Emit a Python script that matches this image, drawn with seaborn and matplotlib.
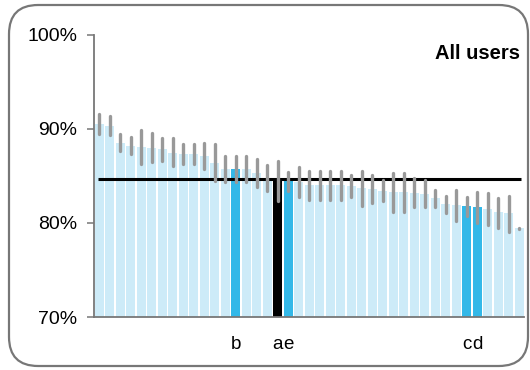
import matplotlib
matplotlib.use("Agg")
import matplotlib.pyplot as plt
from matplotlib.patches import FancyBboxPatch
import seaborn as sns
import numpy as np
import pandas as pd

# ---- data ----
values = [90.5, 90.3, 88.5, 88.2, 88.1, 88.0, 87.8, 87.4, 87.3, 87.3,
          87.1, 86.4, 85.7, 85.7, 85.7, 85.3, 84.7, 84.5, 84.4, 84.3,
          84.0, 84.0, 84.0, 84.0, 83.9, 83.7, 83.6, 83.4, 83.3, 83.3,
          83.2, 83.1, 82.6, 82.0, 81.9, 81.8, 81.7, 81.5, 81.1, 81.0, 79.4]
err_hi = [91.6, 91.3, 89.4, 89.1, 89.9, 89.5, 89.0, 89.0, 88.4, 88.4,
          88.5, 88.4, 87.1, 87.1, 87.1, 86.8, 86.1, 86.6, 85.4, 85.9,
          85.5, 85.5, 85.5, 85.5, 85.1, 85.5, 85.1, 84.5, 85.3, 85.3,
          84.8, 84.5, 83.5, 82.9, 83.5, 82.7, 83.3, 83.2, 82.6, 82.8, 79.5]
err_lo = [89.4, 89.3, 87.6, 87.3, 86.3, 86.5, 86.6, 86.0, 86.2, 86.2,
          85.7, 84.4, 84.3, 84.3, 84.3, 83.8, 83.4, 82.3, 83.4, 82.7,
          82.4, 82.4, 82.4, 82.4, 82.7, 81.8, 82.1, 82.3, 81.2, 81.2,
          81.7, 81.7, 81.7, 81.0, 80.2, 80.7, 80.0, 79.8, 79.5, 79.0, 79.3]
labels = [""] * 41
labels[13] = "b"
labels[17] = "a"
labels[18] = "e"
labels[35] = "c"
labels[36] = "d"
kinds = ["other"] * 41
kinds[13] = "highlight"
kinds[18] = "highlight"
kinds[35] = "highlight"
kinds[36] = "highlight"
kinds[17] = "all"
average = 84.7
yticks = [70, 80, 90, 100]
ytick_labels = ["70%", "80%", "90%", "100%"]
title = "All users"

# ---- style ----
sns.set_style("white")
plt.rcParams['font.family'] = ['Liberation Sans', 'DejaVu Sans']
plt.rcParams['text.color'] = 'black'
plt.rcParams['xtick.color'] = 'black'
plt.rcParams['ytick.color'] = 'black'

color_map = {"other": "#cdebf8", "highlight": "#33b8e8", "all": "#000000"}

df = pd.DataFrame({"pos": [str(i) for i in range(len(values))],
                   "value": values, "kind": kinds})

fig = plt.figure(figsize=(5.3, 3.7), dpi=100)
ax = fig.add_axes([94 / 530, 1 - 317 / 370, 430 / 530, (317 - 34.5) / 370])

sns.barplot(data=df, x="pos", y="value", hue="pos",
            palette=[color_map[k] for k in kinds], legend=False,
            width=0.86, saturation=1, ax=ax, zorder=1, linewidth=0)

n = len(values)
x = np.arange(n)
ax.hlines(average, -0.15, n - 0.85, color="black", linewidth=2.2, zorder=3)
ax.vlines(x, err_lo, err_hi, color="#999999", linewidth=2.4,
          capstyle="round", zorder=4)

ax.set_xlim(-0.52, n - 0.55)
ax.set_ylim(70, 100)
ax.set_yticks(yticks)
ax.set_yticklabels(ytick_labels, fontsize=14, color="black")
ax.set_xticks(x)
ax.set_xticklabels(labels, fontsize=13.5, color="black")
ax.set_xlabel("")
ax.set_ylabel("")

for s in ["top", "right"]:
    ax.spines[s].set_visible(False)
for s in ["left", "bottom"]:
    ax.spines[s].set_color("#777777")
    ax.spines[s].set_linewidth(1.3)

ax.tick_params(axis="y", direction="out", length=5, width=1.1,
               color="#777777", labelcolor="black", pad=7, left=True)
ax.tick_params(axis="x", length=0, pad=14, labelcolor="black")

ax.text(0.99, 0.965, title, transform=ax.transAxes, ha="right", va="top",
        fontsize=14.5, fontweight="bold", color="black")

frame = FancyBboxPatch((9 / 530, 4 / 370), 519 / 530, 361 / 370,
                       boxstyle="round,pad=0,rounding_size=0.055",
                       transform=fig.transFigure, fill=False,
                       edgecolor="#777777", linewidth=1.6, zorder=10,
                       mutation_aspect=530 / 370)
fig.patches.append(frame)

fig.savefig("out.png", dpi=100)
